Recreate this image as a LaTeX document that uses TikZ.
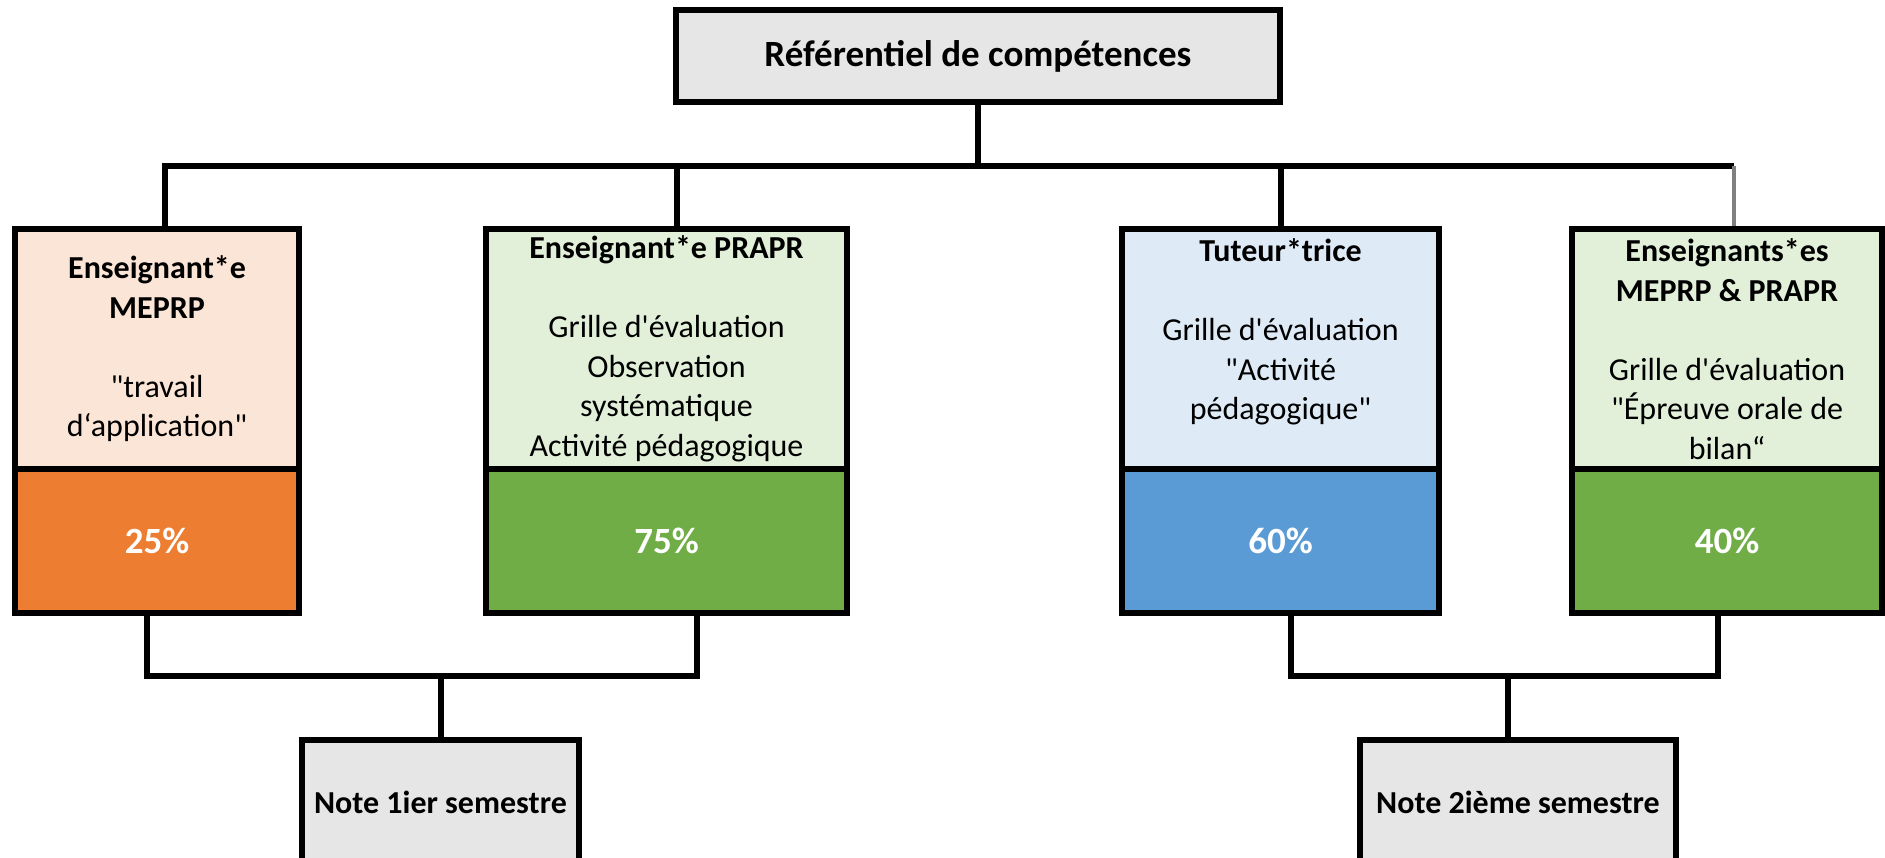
\documentclass[tikz,border=0pt]{standalone}
\usepackage{fontspec}
\setmainfont{Carlito}[Ligatures=TeXOff]
\usetikzlibrary{positioning}

\definecolor{greybox}{HTML}{E7E6E6}
\definecolor{peach}{HTML}{FBE5D6}
\definecolor{orangepct}{HTML}{ED7D31}
\definecolor{greenlight}{HTML}{E2F0D9}
\definecolor{greenpct}{HTML}{70AD47}
\definecolor{bluelight}{HTML}{DEEBF7}
\definecolor{bluepct}{HTML}{5B9BD5}
\definecolor{linegray}{HTML}{808080}

\tikzset{
  box/.style={draw, line width=6pt, inner sep=0pt, align=center},
  head/.style={box, fill=greybox, font=\fontsize{37}{45}\selectfont\bfseries},
  upper/.style={box, minimum height=240pt, font=\fontsize{32}{39.5}\selectfont},
  pct/.style={box, minimum height=144pt, text=white, font=\fontsize{37}{45}\selectfont\bfseries},
  note/.style={box, fill=greybox, minimum height=124pt, font=\fontsize{32}{39}\selectfont\bfseries},
  conn/.style={line width=6pt},
}

\begin{document}
\begin{tikzpicture}[x=1pt, y=-1pt]
  \useasboundingbox (0,0) rectangle (1885,858);
  \clip (0,0) rectangle (1885,858);

  \node [head, minimum width=604pt, minimum height=92pt] (ref) at (978,56) {Référentiel de compétences};

  % who grades
  \node [upper, fill=peach, minimum width=284pt] (g1) at (157,349) 
    {\textbf{Enseignant*e}\\\textbf{MEPRP}\\[39.5pt]"travail\\d‘application"};
  \node [upper, fill=greenlight, minimum width=361pt] (g2) at (666.5,349)
    {\textbf{Enseignant*e PRAPR}\\[39.5pt]Grille d'évaluation\\Observation\\systématique\\Activité pédagogique};
  \node [upper, fill=bluelight, minimum width=317pt] (g3) at (1280.5,349)
    {\textbf{Tuteur*trice}\\[39.5pt]Grille d'évaluation\\"Activité\\pédagogique"\\~};
  \node [upper, fill=greenlight, minimum width=310pt] (g4) at (1727,349)
    {\textbf{Enseignants*es}\\\textbf{MEPRP \& PRAPR}\\[39.5pt]Grille d'évaluation\\"Épreuve orale de\\bilan“};

  % weights
  \node [pct, fill=orangepct, minimum width=284pt, below=-6pt of g1] (p1) {25\%};
  \node [pct, fill=greenpct, minimum width=361pt, below=-6pt of g2] (p2) {75\%};
  \node [pct, fill=bluepct, minimum width=317pt, below=-6pt of g3] (p3) {60\%};
  \node [pct, fill=greenpct, minimum width=310pt, below=-6pt of g4] (p4) {40\%};

  % grades
  \node [note, minimum width=277pt] (n1) at (440.5,802) {Note 1ier semestre};
  \node [note, minimum width=316pt] (n2) at (1518,802) {Note 2ième semestre};

  \coordinate (top) at (0,166);
  \coordinate (bot) at (0,676);
  \coordinate (d1) at ([xshift=8pt]g1.north);
  \coordinate (d2) at ([xshift=10pt]g2.north);
  \coordinate (d4) at ([xshift=7pt]g4.north);
  \coordinate (u1) at ([xshift=-10pt]p1.south);
  \coordinate (u2) at ([xshift=30pt]p2.south);
  \coordinate (u3) at ([xshift=10pt]p3.south);
  \coordinate (u4) at ([xshift=-9pt]p4.south);
  \coordinate (u6) at ([xshift=-10pt]n2.north);

  \draw [conn] (ref.south) -- (ref.south |- top);
  \draw [conn] (d1) |- (d4 |- top);
  \draw [conn] (d2) -- (d2 |- top);
  \draw [conn] (g3.north) -- (g3.north |- top);
  \draw [conn, draw=linegray, line width=4pt] (d4) -- (d4 |- top);

  \draw [conn] (u1) |- (u2 |- bot) -- (u2);
  \draw [conn] (n1.north) -- (n1.north |- bot);
  \draw [conn] (u3) |- (u4 |- bot) -- (u4);
  \draw [conn] (u6) -- (u6 |- bot);
\end{tikzpicture}
\end{document}
